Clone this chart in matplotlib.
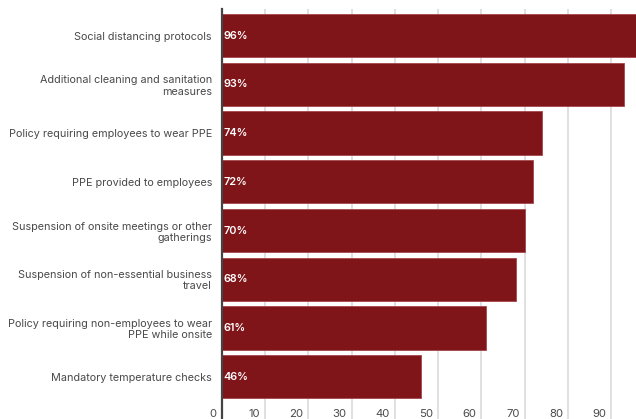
import matplotlib
matplotlib.use("Agg")
import matplotlib.pyplot as plt
from matplotlib import transforms

categories = [
    "Social distancing protocols",
    "Additional cleaning and sanitation\nmeasures",
    "Policy requiring employees to wear PPE",
    "PPE provided to employees",
    "Suspension of onsite meetings or other\ngatherings",
    "Suspension of non-essential business\ntravel",
    "Policy requiring non-employees to wear\nPPE while onsite",
    "Mandatory temperature checks",
]
values = [96, 93, 74, 72, 70, 68, 61, 46]
x_ticks = [0, 10, 20, 30, 40, 50, 60, 70, 80, 90]

bar_color = "#7f1519"
text_color = "#4a4a4a"
font = ["Inter", "DejaVu Sans"]

fig = plt.figure(figsize=(6.36, 4.19), dpi=100)
ax = fig.add_axes([221.7 / 636, 0.0, 1 - 221.7 / 636, 1 - 9 / 419])

y = list(range(len(categories)))
ax.barh(y, values, height=0.89, color=bar_color, edgecolor="#a5474a",
        linewidth=0.6, zorder=2)

ax.set_xlim(0, 95.7)
ax.set_ylim(7.87, -0.548)

# vertical gridlines
for t in x_ticks[1:]:
    ax.axvline(t, color="#dddddd", linewidth=1.3, zorder=1)

for s in ["top", "right", "bottom"]:
    ax.spines[s].set_visible(False)
ax.spines["left"].set_color("#444444")
ax.spines["left"].set_linewidth(1.6)
ax.spines["left"].set_zorder(3)

ax.set_yticks(y)
ax.set_yticklabels(categories, fontsize=7.8, color=text_color, family=font,
                   linespacing=1.15)
ax.tick_params(axis="y", length=0, pad=7)
ax.set_xticks([])

# value labels inside bars
for yi, v in zip(y, values):
    ax.text(0.35, yi, f"{v}%", color="white", fontsize=7.8, fontweight="semibold",
            family=font, va="center", ha="left", zorder=4)

# x tick labels drawn inside the axes at the bottom
trans = transforms.blended_transform_factory(ax.transData, ax.transAxes)
off = transforms.ScaledTranslation(-5 / 100, 0, fig.dpi_scale_trans)
for t in x_ticks:
    ax.text(t, 5 / 410, str(t), transform=trans + off,
            ha="right", va="center", fontsize=8.2, color=text_color,
            family=font, zorder=4)

fig.savefig("out.png", dpi=100)
